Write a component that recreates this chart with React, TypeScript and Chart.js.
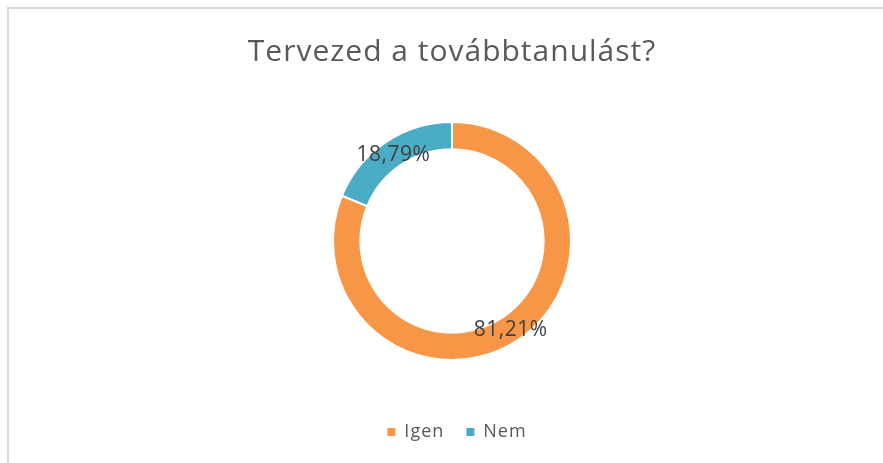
import React, { useEffect, useRef } from "react";
import { Chart, registerables } from "chart.js";

Chart.register(...registerables);

const titleText = "Tervezed a továbbtanulást?";
const categories = ["Igen", "Nem"];
const values = [81.21, 18.79];
const valueLabels = ["81,21%", "18,79%"];
const colors = ["#F79646", "#4BACC6"];

const FONT = "'Open Sans', 'DejaVu Sans', sans-serif";

const spacingPlugin = {
  id: "letterSpacing",
  beforeLayout(chart: any) {
    chart.ctx.letterSpacing = "1px";
  },
  afterLayout(chart: any) {
    const lg = chart.legend;
    if (lg) {
      lg.left += 5;
      lg.right += 5;
    }
  },
  beforeDraw(chart: any) {
    chart.ctx.letterSpacing = "1px";
  },
};

const labelPlugin = {
  id: "arcLabels",
  afterDatasetsDraw(chart: any) {
    const ctx = chart.ctx;
    const meta = chart.getDatasetMeta(0);
    ctx.save();
    ctx.letterSpacing = "0.5px";
    ctx.font = `21px ${FONT}`;
    ctx.fillStyle = "#404040";
    ctx.textAlign = "center";
    ctx.textBaseline = "middle";
    meta.data.forEach((arc: any, i: number) => {
      const p = arc.getCenterPoint();
      ctx.fillText(valueLabels[i], p.x, p.y + 2);
    });
    ctx.restore();
  },
};

export default function App() {
  const ref = useRef<HTMLCanvasElement | null>(null);

  useEffect(() => {
    if (!ref.current) return;
    const chart = new Chart(ref.current, {
      type: "doughnut",
      data: {
        labels: categories,
        datasets: [
          {
            data: values,
            backgroundColor: colors,
            borderColor: "#ffffff",
            borderWidth: 2,
            radius: 119,
            cutout: "77%",
          } as any,
        ],
      },
      options: {
        responsive: false,
        animation: false,
        events: [],
        layout: { padding: { top: 0, left: 21, right: 0, bottom: 12 } },
        plugins: {
          title: {
            display: true,
            text: titleText,
            color: "#595959",
            font: { family: FONT, size: 30, weight: "normal" },
            padding: { top: 34, bottom: 11 },
          },
          legend: {
            display: true,
            position: "bottom",
            labels: {
              color: "#595959",
              font: { family: FONT, size: 18 },
              boxWidth: 8,
              boxHeight: 8,
              padding: 22,
              generateLabels(c: any) {
                const items = Chart.overrides.doughnut.plugins.legend.labels.generateLabels(c);
                return items.map((it: any) => ({ ...it, lineWidth: 0, strokeStyle: "rgba(0,0,0,0)" }));
              },
            },
          },
          tooltip: { enabled: false },
        },
      },
      plugins: [spacingPlugin, labelPlugin],
    });
    return () => chart.destroy();
  }, []);

  return (
    <div style={{ position: "fixed", left: 0, top: 0, width: 883, height: 463, background: "#fff" }}>
      <div
        style={{
          position: "absolute",
          left: 7,
          top: 7,
          right: 0,
          bottom: 0,
          borderTop: "2px solid #d9d9d9",
          borderLeft: "2px solid #d9d9d9",
        }}
      />
      <canvas ref={ref} width={883} height={463} style={{ position: "absolute", left: 0, top: 0 }} />
    </div>
  );
}
